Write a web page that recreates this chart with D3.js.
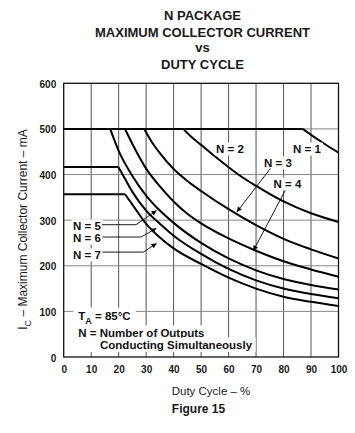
<!DOCTYPE html>
<html>
<head>
<meta charset="utf-8">
<script src="https://cdn.jsdelivr.net/npm/d3@7"></script>
<style>
  html, body { margin: 0; padding: 0; background: #fff; }
  svg { display: block; font-family: "Liberation Sans", Arial, Helvetica, sans-serif; }
</style>
</head>
<body>
<svg id="chart" width="355" height="433"></svg>
<script>
// ---------------- data ----------------
const titleLines = ["N PACKAGE", "MAXIMUM COLLECTOR CURRENT", "vs", "DUTY CYCLE"];
const xTicks = [0, 10, 20, 30, 40, 50, 60, 70, 80, 90, 100];
const yTicks = [0, 100, 200, 300, 400, 500, 600];
const seriesNames = ["N = 1", "N = 2", "N = 3", "N = 4", "N = 5", "N = 6", "N = 7"];

// current limit (flat part) for each N, mA
const limitIc = [500, 500, 500, 500, 500, 416.7, 357];

// derated part of each curve: duty cycle (%) and Ic (mA)
const n1Duty = [87, 90, 95, 100];
const n1Ic   = [500, 487, 467, 448];
const n2Duty = [43.5, 46, 50, 55, 60, 65, 70, 80, 90, 100];
const n2Ic   = [500, 485, 465, 440, 416, 394, 375, 341, 315, 296];
const n3Duty = [29.3, 32, 35, 40, 45, 50, 60, 70, 80, 90, 100];
const n3Ic   = [500, 472, 447, 412, 386, 364, 324, 289, 259, 236, 216];
const n4Duty = [22.3, 25, 30, 35, 40, 45, 50, 60, 70, 80, 90, 100];
const n4Ic   = [500, 467, 413, 374, 341, 314, 293, 260, 233, 210, 192, 176];
const n5Duty = [16.9, 20, 25, 30, 35, 40, 50, 60, 70, 80, 90, 100];
const n5Ic   = [500, 452, 397, 354, 321, 294, 250, 216, 190, 171, 158, 148];
const n6Duty = [19.9, 22, 25, 30, 35, 40, 50, 60, 70, 80, 90, 100];
const n6Ic   = [416.7, 394, 362, 321, 292, 266, 226, 193, 168, 150, 138, 129];
const n7Duty = [22.3, 25, 30, 35, 40, 50, 60, 70, 80, 90, 100];
const n7Ic   = [357, 334, 292, 262, 238, 204, 174, 150, 132, 121, 112];

const curveDuty = [n1Duty, n2Duty, n3Duty, n4Duty, n5Duty, n6Duty, n7Duty];
const curveIc   = [n1Ic, n2Ic, n3Ic, n4Ic, n5Ic, n6Ic, n7Ic];

// ---------------- chart ----------------
const svg = d3.select("#chart");
svg.append("rect").attr("width", 355).attr("height", 433).attr("fill", "#fff");

const x = d3.scaleLinear().domain([0, 100]).range([63.7, 338.5]);
const y = d3.scaleLinear().domain([0, 600]).range([357, 83.3]);

// title
const tg = svg.append("g").attr("fill", "#1a1a1a").attr("font-weight", "bold")
  .attr("font-size", 13).attr("text-anchor", "middle");
const titleY = [20, 37, 52, 69];
titleLines.forEach((t, i) => tg.append("text").attr("x", 202.5).attr("y", titleY[i]).text(t));

// grid
const grid = svg.append("g");
grid.selectAll("line.v").data(xTicks.slice(1, -1)).enter().append("line")
  .attr("x1", d => x(d)).attr("x2", d => x(d))
  .attr("y1", y(600)).attr("y2", y(0))
  .attr("stroke", "#555").attr("stroke-width", 1);
grid.selectAll("line.h").data(yTicks.slice(1, -1)).enter().append("line")
  .attr("x1", x(0)).attr("x2", x(100))
  .attr("y1", d => y(d)).attr("y2", d => y(d))
  .attr("stroke", "#888").attr("stroke-width", 1);

// axes (labels only, no tick marks)
const xAxis = d3.axisBottom(x).tickValues(xTicks).tickSize(0).tickPadding(9);
const yAxis = d3.axisLeft(y).tickValues(yTicks).tickSize(0).tickPadding(7.5);
const gx = svg.append("g").attr("transform", `translate(0,${y(0)})`).call(xAxis);
const gy = svg.append("g").attr("transform", `translate(${x(0)},0)`).call(yAxis);
[gx, gy].forEach(g => {
  g.select(".domain").remove();
  g.selectAll("text").attr("font-family", "Liberation Sans, Arial, sans-serif")
    .attr("font-size", 10).attr("font-weight", "bold").attr("fill", "#1a1a1a");
});
gy.selectAll("text").attr("dy", "0.4em");

// frame
svg.append("rect").attr("x", x(0)).attr("y", y(600))
  .attr("width", x(100) - x(0)).attr("height", y(0) - y(600))
  .attr("fill", "none").attr("stroke", "#111").attr("stroke-width", 1.3);

// helper: text with white backing
function label(g, str, px, py, opts = {}) {
  const t = g.append("text").attr("x", px).attr("y", py)
    .attr("font-size", opts.size || 11.5).attr("font-weight", "bold").attr("fill", "#111");
  if (opts.anchor) t.attr("text-anchor", opts.anchor);
  if (typeof str === "string") t.text(str);
  else str(t);
  return t;
}
function backing(g, t, pad) {
  const b = t.node().getBBox();
  g.insert("rect", () => t.node())
    .attr("x", b.x - pad[0]).attr("y", b.y - pad[1])
    .attr("width", b.width + 2 * pad[0]).attr("height", b.height + 2 * pad[1])
    .attr("fill", "#fff");
  return b;
}

// annotation block bottom-left
const ann = svg.append("g");
const ta = label(ann, t => {
  t.append("tspan").text("T");
  t.append("tspan").attr("font-size", 9).attr("dy", 3.5).text("A");
  t.append("tspan").attr("dy", -3.5).text(" = 85°C");
}, 78.3, 320);
const nn = label(ann, "N = Number of Outputs", 78.3, 337);
const cs = label(ann, "Conducting Simultaneously", 100, 348.5);
const bTa = backing(ann, ta, [5, 2.5]);
const bNn = backing(ann, nn, [4, 1.5]);
const bCs = cs.node().getBBox();
ann.insert("rect", () => cs.node())
  .attr("x", bNn.x - 4).attr("y", bCs.y - 1)
  .attr("width", bCs.x + bCs.width + 3 - (bNn.x - 4)).attr("height", 352 - (bCs.y - 1))
  .attr("fill", "#fff");

// curves
const line = d3.line().x(d => x(d[0])).y(d => y(d[1])).curve(d3.curveMonotoneX);
const curves = svg.append("g").attr("fill", "none").attr("stroke", "#000")
  .attr("stroke-width", 2).attr("stroke-linejoin", "round");
seriesNames.forEach((name, i) => {
  const pts = curveDuty[i].map((d, j) => [d, curveIc[i][j]]);
  // flat limit from 0 % duty to the start of the derated part
  curves.append("line")
    .attr("x1", x(0)).attr("x2", x(curveDuty[i][0]))
    .attr("y1", y(limitIc[i])).attr("y2", y(limitIc[i]));
  curves.append("path").attr("d", line(pts));
});

// arrow marker
const defs = svg.append("defs");
defs.append("marker").attr("id", "arr").attr("viewBox", "0 0 10 10")
  .attr("refX", 10).attr("refY", 5).attr("markerWidth", 7).attr("markerHeight", 5)
  .attr("markerUnits", "userSpaceOnUse").attr("orient", "auto")
  .append("path").attr("d", "M0,0 L10,5 L0,10 Z").attr("fill", "#000");

// curve labels
const lab = svg.append("g");
const labelPos = {
  "N = 1": [293, 153],
  "N = 2": [216, 153],
  "N = 3": [264, 167],
  "N = 4": [273.5, 188],
  "N = 5": [73, 230],
  "N = 6": [73, 242],
  "N = 7": [73, 259]
};
seriesNames.forEach(n => {
  const t = label(lab, n, labelPos[n][0], labelPos[n][1]);
  backing(lab, t, [1.5, 0.5]);
});

// leader lines (duty %, mA)
const leaders = [
  [[13.9, 290], [26.3, 290], [33.8, 321]],
  [[14.1, 263], [28.2, 263], [33.7, 282]],
  [[14.1, 230], [29.0, 230], [33.8, 249]],
  [[75.2, 413], [63.0, 318]],
  [[80.6, 365], [69.0, 233]]
];
const ll = d3.line().x(d => x(d[0])).y(d => y(d[1]));
svg.append("g").selectAll("path").data(leaders).enter().append("path")
  .attr("d", d => ll(d)).attr("fill", "none").attr("stroke", "#000")
  .attr("stroke-width", 0.9).attr("marker-end", "url(#arr)");

// axis titles
svg.append("text").attr("transform", "translate(27,229.5) rotate(-90)")
  .attr("text-anchor", "middle").attr("font-size", 12).attr("fill", "#1a1a1a")
  .call(t => {
    t.append("tspan").text("I");
    t.append("tspan").attr("font-size", 9).attr("dy", 3.5).text("C");
    t.append("tspan").attr("dy", -3.5).text(" – Maximum Collector Current – mA");
  });
svg.append("text").attr("x", 211).attr("y", 395).attr("text-anchor", "middle")
  .attr("font-size", 11.5).attr("fill", "#1a1a1a").text("Duty Cycle – %");

svg.append("text").attr("x", 198.5).attr("y", 413).attr("text-anchor", "middle")
  .attr("font-size", 12).attr("font-weight", "bold").attr("fill", "#1a1a1a").text("Figure 15");
</script>
</body>
</html>
